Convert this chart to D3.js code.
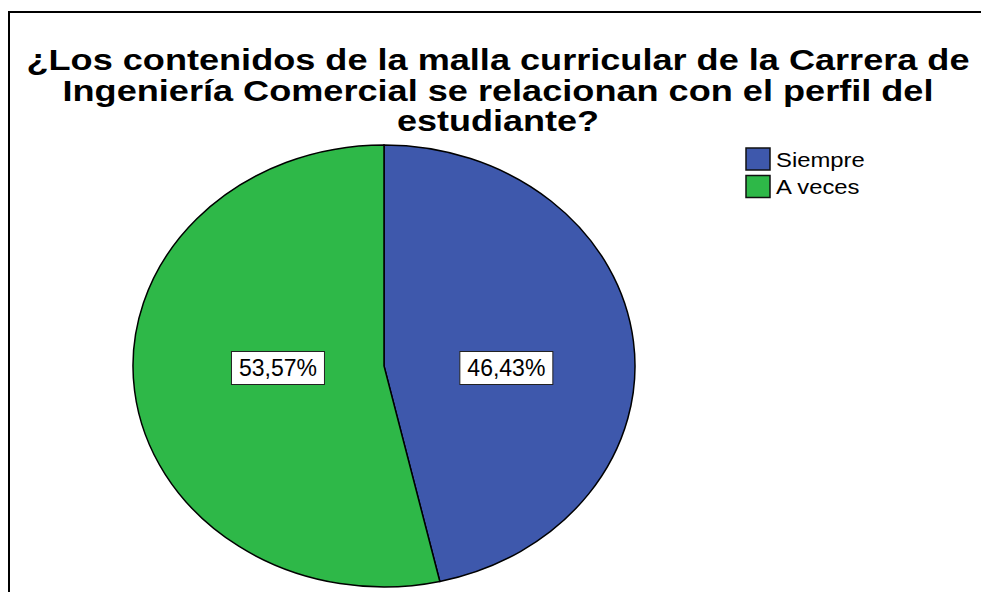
<!DOCTYPE html>
<html>
<head>
<meta charset="utf-8">
<script src="https://cdn.jsdelivr.net/npm/d3@7"></script>
<style>
  body { margin: 0; background: #fff; overflow: hidden; }
  text { font-family: "Liberation Sans", Arial, sans-serif; }
</style>
</head>
<body>
<svg id="chart" width="981" height="592"></svg>
<script>
// data
const categories = ["Siempre", "A veces"]
const percents = [46.43, 53.57]
const colours = ["#3e58ac", "#2eb848"]
const titleLines = [
  "¿Los contenidos de la malla curricular de la Carrera de",
  "Ingeniería Comercial se relacionan con el perfil del",
  "estudiante?"
]
// measured widths of the title lines (the original is stretched sideways)
const titleWidths = [943, 871, 202]

const W = 981, H = 592
const cx = 384, cy = 366
const rx = 251, ry = 221
const stretch = rx / ry

const svg = d3.select("#chart")

// outer frame, runs off the right and bottom edges
svg.append("rect")
  .attr("x", 9).attr("y", 12)
  .attr("width", W + 200).attr("height", H + 200)
  .attr("fill", "none")
  .attr("stroke", "#000")
  .attr("stroke-width", 2)

// title
svg.selectAll("text.title")
  .data(titleLines)
  .enter().append("text")
  .attr("class", "title")
  .attr("x", 498)
  .attr("y", (d, i) => 70 + i * 30.5)
  .attr("text-anchor", "middle")
  .attr("textLength", (d, i) => titleWidths[i])
  .attr("lengthAdjust", "spacingAndGlyphs")
  .style("font-size", "29px")
  .style("font-weight", "bold")
  .text(d => d)

// pie, drawn as a circle and stretched into an ellipse
const slices = categories.map((c, i) => ({ name: c, value: percents[i], colour: colours[i] }))
const pie = d3.pie().sort(null).value(d => d.value)
const arcs = pie(slices)
const arc = d3.arc().innerRadius(0).outerRadius(ry)

const pieG = svg.append("g")
  .attr("transform", `translate(${cx},${cy}) scale(${stretch},1)`)

pieG.selectAll("path")
  .data(arcs)
  .enter().append("path")
  .attr("d", arc)
  .attr("fill", d => d.data.colour)
  .attr("stroke", "#000")
  .attr("stroke-width", 1.5)
  .attr("vector-effect", "non-scaling-stroke")

// labels: sideways from the centre, near each sector's centroid
function labelPos(d) {
  let th = d.endAngle - d.startAngle
  let mid = (d.startAngle + d.endAngle) / 2
  let k = 4 * Math.sin(th / 2) / (3 * th) * 1.08
  return [cx + Math.sin(mid) * k * rx, cy + 2]
}
const fmt = v => v.toFixed(2).replace(".", ",") + "%"

const labels = svg.selectAll("g.lbl")
  .data(arcs)
  .enter().append("g")
  .attr("class", "lbl")
  .attr("transform", d => { let p = labelPos(d); return `translate(${p[0]},${p[1]})` })

labels.append("rect")
  .attr("x", -46.5).attr("y", -16.5)
  .attr("width", 93).attr("height", 33)
  .attr("fill", "#fff")
  .attr("stroke", "#222")
  .attr("stroke-width", 1)

labels.append("text")
  .attr("text-anchor", "middle")
  .attr("dy", "0.36em")
  .style("font-size", "23px")
  .text(d => fmt(d.data.value))

// legend
const leg = svg.append("g").attr("transform", "translate(746,148)")
const legItems = leg.selectAll("g")
  .data(slices)
  .enter().append("g")
  .attr("transform", (d, i) => `translate(0,${i * 27.5})`)

legItems.append("rect")
  .attr("width", 24).attr("height", 22)
  .attr("fill", d => d.colour)
  .attr("stroke", "#111")
  .attr("stroke-width", 1.5)

legItems.append("text")
  .attr("transform", `translate(30,11) scale(${stretch},1)`)
  .attr("dy", "0.36em")
  .style("font-size", "21px")
  .text(d => d.name)
</script>
</body>
</html>
